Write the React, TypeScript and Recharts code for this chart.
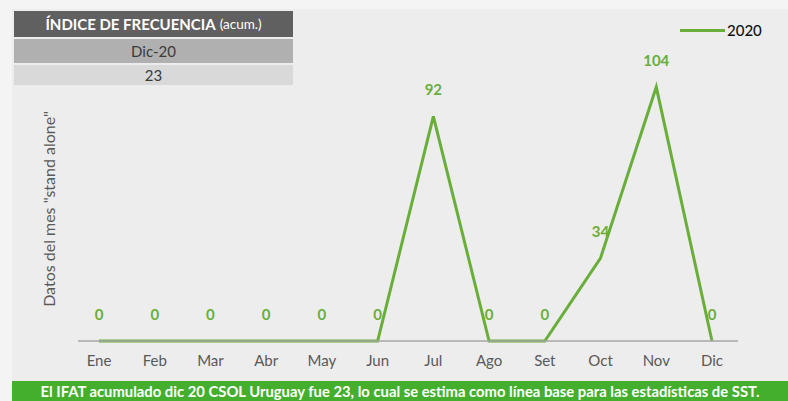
import { LineChart, Line, XAxis, YAxis, LabelList } from 'recharts';

const months = ['Ene', 'Feb', 'Mar', 'Abr', 'May', 'Jun', 'Jul', 'Ago', 'Set', 'Oct', 'Nov', 'Dic'];
const values2020 = [0, 0, 0, 0, 0, 0, 92, 0, 0, 34, 104, 0];
const seriesName = '2020';

const data = months.map((m, i) => ({ month: m, v2020: values2020[i] }));

const GREEN = '#6aae3a';
const FONT = 'Lato, "Open Sans", sans-serif';

const App = () => {
  return (
    <div
      style={{
        position: 'fixed',
        left: 0,
        top: 0,
        width: 788,
        height: 401,
        background: '#f4f4f4',
        fontFamily: FONT,
        overflow: 'hidden',
      }}
    >
      {/* grey panel */}
      <div style={{ position: 'absolute', left: 12, top: 9, width: 776, height: 372, background: '#ededed' }} />

      {/* header boxes */}
      <div
        style={{
          position: 'absolute', left: 14, top: 11, width: 279, height: 26, background: '#606060',
          color: '#fff', fontSize: 15, fontWeight: 700, display: 'flex', alignItems: 'center', justifyContent: 'center',
        }}
      >
        ÍNDICE DE FRECUENCIA<span style={{ fontSize: 13.5, fontWeight: 400, marginLeft: 4 }}>(acum.)</span>
      </div>
      <div
        style={{
          position: 'absolute', left: 14, top: 39, width: 279, height: 24, background: '#b0b0b0',
          color: '#3a3a3a', fontSize: 15, display: 'flex', alignItems: 'center', justifyContent: 'center',
        }}
      >
        Dic-20
      </div>
      <div
        style={{
          position: 'absolute', left: 14, top: 65, width: 279, height: 20, background: '#d9d9d9',
          color: '#3a3a3a', fontSize: 15, display: 'flex', alignItems: 'center', justifyContent: 'center',
        }}
      >
        23
      </div>

      {/* legend */}
      <div style={{ position: 'absolute', left: 680, top: 29, width: 45, height: 3, background: GREEN }} />
      <div style={{ position: 'absolute', left: 727, top: 21, fontSize: 15, fontWeight: 500, color: '#111' }}>
        {seriesName}
      </div>

      {/* y axis title */}
      <div
        style={{
          position: 'absolute', left: 48, top: 209, transform: 'translate(-50%, -50%) rotate(-90deg)',
          whiteSpace: 'nowrap', fontSize: 16, color: '#595959',
        }}
      >
        Datos del mes "stand alone"
      </div>

      <div style={{ position: 'absolute', left: 0, top: 0 }}>
        <LineChart width={788} height={401} data={data} margin={{ top: 48, right: 50, left: 78, bottom: 30 }}>
          <XAxis
            dataKey="month"
            padding={{ left: 21, right: 26 }}
            axisLine={{ stroke: '#a6a6a6', strokeWidth: 1.5 }}
            tickLine={false}
            tickMargin={8}
            tick={{ fill: '#595959', fontSize: 15, fontFamily: FONT }}
            interval={0}
          />
          <YAxis hide domain={[0, 120]} />
          <Line
            dataKey="v2020"
            name={seriesName}
            stroke={GREEN}
            strokeWidth={3}
            dot={false}
            isAnimationActive={false}
          >
            <LabelList
              dataKey="v2020"
              position="top"
              offset={21}
              fill={GREEN}
              fontSize={15}
              fontWeight={700}
              fontFamily={FONT}
            />
          </Line>
        </LineChart>
      </div>

      {/* footer */}
      <div
        style={{
          position: 'absolute', left: 12, top: 381, width: 776, height: 20, background: '#43af2d',
          color: '#fff', fontSize: 14.8, fontWeight: 700, display: 'flex', alignItems: 'center', justifyContent: 'center',
          whiteSpace: 'nowrap',
        }}
      >
        El IFAT acumulado dic 20 CSOL Uruguay fue 23, lo cual se estima como línea base para las estadísticas de SST.
      </div>
    </div>
  );
};

export default App;
